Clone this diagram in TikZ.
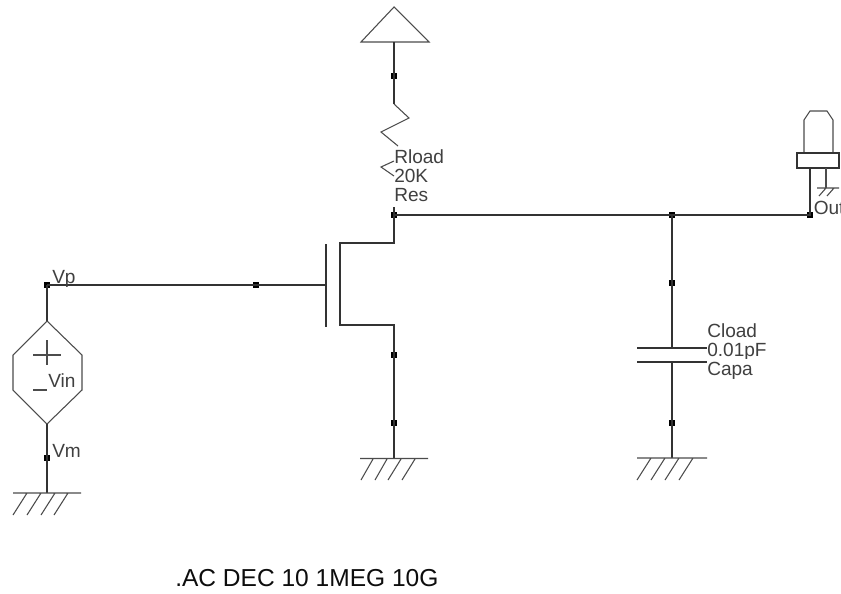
\documentclass[tikz,border=0pt]{standalone}
\usepackage{fontspec}
\setmainfont{Liberation Sans}
\tikzset{
  x=0.75pt,y=-0.75pt,
  wire/.style={line width=1pt,draw=black!80,line join=miter},
  thin wire/.style={line width=0.8pt,draw=black!70},
  junction/.style={fill=black,draw=none,minimum size=4.2pt,inner sep=0pt,rectangle},
  lbl/.style={anchor=base west,inner sep=0pt,font=\fontsize{14.3pt}{14.3pt}\selectfont,text=black!75},
  cmd/.style={anchor=base west,inner sep=0pt,font=\fontsize{18.4pt}{18.4pt}\selectfont,text=black!95}
}
\begin{document}
\begin{tikzpicture}
\useasboundingbox (0,0) rectangle (841,593);
\fill[white] (0,0) rectangle (841,593);
% named coordinates
\coordinate (vddtop) at (394,42);
\coordinate (rtop) at (394,104);
\coordinate (rbot) at (394,207);
\coordinate (dcorner) at (394,243);
\coordinate (dch) at (340,243);
\coordinate (sch) at (340,325);
\coordinate (scorner) at (394,325);
\coordinate (gnd1) at (394,458);
\coordinate (gate) at (326,285);
\coordinate (srctop) at (47,321);
\coordinate (srcbot) at (47,424);
\coordinate (gnd2) at (47,493);
\coordinate (captop) at (672,348);
\coordinate (capbot) at (672,362);
\coordinate (gnd3) at (672,458);
\coordinate (probebot) at (810,168);
\coordinate (stem) at (826,168);
\coordinate (stembot) at (826,188);
% junctions
\node[junction] (j1) at (394,76) {};
\node[junction] (j2) at (394,215) {};
\node[junction] (j3) at (672,215) {};
\node[junction] (j4) at (810,215) {};
\node[junction] (j5) at (672,283) {};
\node[junction] (j6) at (672,423) {};
\node[junction] (j7) at (394,355) {};
\node[junction] (j8) at (394,423) {};
\node[junction] (j9) at (256,285) {};
\node[junction] (j10) at (47,285) {};
\node[junction] (j11) at (47,458) {};
% supply
\draw[thin wire] (394,7) -- (429,42) -- (361,42) -- cycle;
\draw[wire] (vddtop) -- (j1.center) -- (rtop);
% resistor
\draw[thin wire] (rtop) -- (409,118) -- (381,132) -- (398,146);
\draw[thin wire] (394,161) -- (381,167) -- (394,176);
\draw[wire] (rbot) -- (j2.center) -- (dcorner) -- (dch) -- (sch) -- (scorner) -- (j7.center) -- (j8.center) -- (gnd1);
% output
\draw[wire] (j2.center) -- (j3.center) -- (j4.center) -- (probebot);
% gate
\draw[wire] (326,244) -- (326,327);
\draw[wire] (gate) -- (j9.center) -- (j10.center);
% source
\draw[wire] (j10.center) -- (srctop);
\draw[thin wire] (srctop) -- (82,355) -- (82,390) -- (srcbot) -- (13,390) -- (13,355) -- cycle;
\draw[thin wire] (47,340) -- (47,365) (33,355) -- (61,355) (33,390) -- (47,390);
\draw[wire] (srcbot) -- (j11.center) -- (gnd2);
% capacitor
\draw[wire] (j3.center) -- (j5.center) -- (captop);
\draw[wire] (637,348) -- (707,348) (637,362) -- (707,362);
\draw[wire] (capbot) -- (j6.center) -- (gnd3);
% grounds
\draw[thin wire] (360,458.5) -- (428,458.5) (373,459) -- (361,480) (387,459) -- (375,480) (401,459) -- (388,480) (415,459) -- (402,480);
\draw[thin wire] (13,493) -- (81,493) (27,493) -- (13,515) (41,493) -- (27,515) (55,493) -- (41,515) (68,493) -- (54,515);
\draw[thin wire] (637,458) -- (707,458) (651,458) -- (637,480) (665,458) -- (651,480) (679,458) -- (665,480) (693,458) -- (679,480);
% probe
\draw[thin wire] (804,153) -- (804,120) -- (810,111) -- (827,111) -- (833,120) -- (833,153);
\draw[wire] (797,153) rectangle (839,168);
\draw[thin wire] (stem) -- (stembot);
\draw[thin wire] (817,188) -- (839,188) (826,188) -- (819,196) (834,188) -- (827,196);
% labels
\node[lbl] (t1) at (394,163) {Rload};
\node[lbl] (t2) at (394,182) {20K};
\node[lbl] (t3) at (394,201) {Res};
\node[lbl] (t4) at (52,283) {Vp};
\node[lbl] (t5) at (48,387) {Vin};
\node[lbl] (t6) at (52,457) {Vm};
\node[lbl] (t7) at (707,337) {Cload};
\node[lbl] (t8) at (707,356) {0.01pF};
\node[lbl,fill=white,text height=12pt] (t9) at (707,375) {Capa};
\node[lbl] (t10) at (813.5,214) {Out};
\node[cmd] (t11) at (175,586) {.AC DEC 10 1MEG 10G};
\end{tikzpicture}
\end{document}
